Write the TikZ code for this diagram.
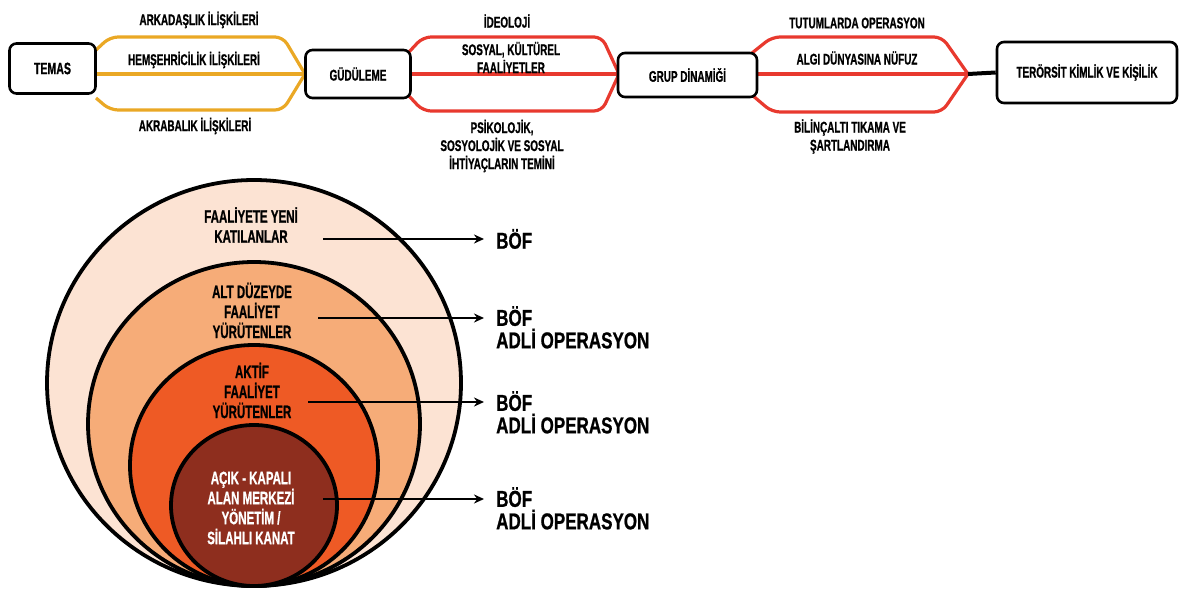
\documentclass[tikz,border=0pt]{standalone}
\usepackage{fontspec}
\setmainfont{Liberation Sans}[FakeStretch=0.64, BoldFeatures={FakeBold=0.8}]
\newfontfamily\widefont{Liberation Sans}[FakeStretch=0.74, BoldFeatures={FakeBold=0.8}]
\usetikzlibrary{arrows.meta}
\definecolor{ylw}{HTML}{EAA825}
\definecolor{rd}{HTML}{E8392E}
\definecolor{c1}{HTML}{FCE3D3}
\definecolor{c2}{HTML}{F6AC78}
\definecolor{c3}{HTML}{EE5A25}
\definecolor{c4}{HTML}{8E2E1E}
\tikzset{
  box/.style={draw=black, line width=2.6, rounded corners=7, fill=white, inner sep=0, font=\bfseries\fontsize{15.5}{16}\selectfont},
  lbl/.style={font=\bfseries\fontsize{15.5}{18}\selectfont, align=center, inner sep=0},
  clbl/.style={font=\bfseries\fontsize{18}{20}\selectfont, align=center, inner sep=0},
  rlbl/.style={font=\widefont\bfseries\fontsize{23}{22.5}\selectfont, align=left, inner sep=0, anchor=west},
  ybr/.style={draw=ylw, line width=3.2, rounded corners=8},
  rbr/.style={draw=rd, line width=3.2, rounded corners=8},
  ring/.style={draw=black, line width=3.8},
  arr/.style={draw=black, line width=2, -{Stealth[length=10pt,width=9pt]}}
}
\begin{document}
\begin{tikzpicture}[x=1pt,y=-1pt]
\useasboundingbox (0,0) rectangle (1182,593);
% ---------- top chain ----------
\coordinate (y1a) at (96,50);
\coordinate (y1b) at (96,98);
\draw[ybr] (y1a) -- (110,37) -- (283,37) -- (305,74);
\draw[ybr] (y1b) -- (110,110) -- (283,110) -- (305,74);
\draw[ylw, line width=3.2] (96,74) -- (305,74);
\draw[rbr] (409,52) -- (423,37) -- (602,37) -- (619,74);
\draw[rbr] (409,96) -- (423,111) -- (602,111) -- (619,74);
\draw[rd, line width=3.2] (409,74) -- (619,74);
\coordinate (j3) at (968,74);
\draw[rbr] (752,53) -- (772,37) -- (942,37) -- (j3);
\draw[rbr] (752,95) -- (772,112) -- (942,112) -- (j3);
\draw[rd, line width=3.2] (756,74) -- (j3);
% boxes
\node[box, minimum width=86, minimum height=50] (temas) at (52.5,68.5) {\fontsize{16.5}{17}\selectfont TEMAS};
\node[box, minimum width=105, minimum height=48] (gud) at (358,74) {GÜDÜLEME};
\node[box, minimum width=139, minimum height=44] (grup) at (687.5,75) {GRUP DİNAMİĞİ};
\node[box, minimum width=180, minimum height=61] (ter) at (1087,72.5) {TERÖRSİT KİMLİK VE KİŞİLİK};
\draw[black, line width=4] (j3) -- (ter.west);
% labels
\node[lbl] (l1) at (199,20) {ARKADAŞLIK İLİŞKİLERİ};
\node[lbl] (l2) at (194,60) {HEMŞEHRİCİLİK İLİŞKİLERİ};
\node[lbl] (l3) at (195,126) {AKRABALIK İLİŞKİLERİ};
\node[lbl] (l4) at (507,21) {İDEOLOJİ};
\node[lbl] (l5) at (511,57.5) {SOSYAL, KÜLTÜREL\\FAALİYETLER};
\node[lbl] (l6) at (502,146) {PSİKOLOJİK,\\SOSYOLOJİK VE SOSYAL\\İHTİYAÇLARIN TEMİNİ};
\node[lbl] (l7) at (857,23) {TUTUMLARDA OPERASYON};
\node[lbl] (l8) at (857,58) {ALGI DÜNYASINA NÜFUZ};
\node[lbl] (l9) at (850,136.5) {BİLİNÇALTI TIKAMA VE\\ŞARTLANDIRMA};
% ---------- circles ----------
\draw[ring, fill=c1] (254,383) ellipse [x radius=207, y radius=203];
\draw[ring, fill=c2] (254,424) ellipse [x radius=166, y radius=162];
\draw[ring, fill=c3] (254,465.5) ellipse [x radius=124, y radius=120.5];
\draw[ring, fill=c4] (254,505.5) ellipse [x radius=83, y radius=80.5];
\node[clbl] (t1) at (251,225) {FAALİYETE YENİ\\KATILANLAR};
\node[clbl] (t2) at (252,310.5) {ALT DÜZEYDE\\FAALİYET\\YÜRÜTENLER};
\node[clbl] (t3) at (252,390.5) {AKTİF\\FAALİYET\\YÜRÜTENLER};
\node[clbl, text=white] (t4) at (251,508) {AÇIK - KAPALI\\ALAN MERKEZİ\\YÖNETİM /\\SİLAHLI KANAT};
% right labels
\node[rlbl] (r1) at (496,239) {BÖF};
\node[rlbl, anchor=north west] (r2) at (496,306) {BÖF\\ADLİ OPERASYON};
\node[rlbl, anchor=north west] (r3) at (496,391) {BÖF\\ADLİ OPERASYON};
\node[rlbl, anchor=north west] (r4) at (496,487) {BÖF\\ADLİ OPERASYON};
\coordinate (s1) at (323,239);
\coordinate (s2) at (318,318);
\coordinate (s3) at (308,402);
\coordinate (s4) at (323,499);
\draw[arr] (s1) -- (484,239);
\draw[arr] (s2) -- (484,318);
\draw[arr] (s3) -- (484,402);
\draw[arr] (s4) -- (484,499);
\end{tikzpicture}
\end{document}
